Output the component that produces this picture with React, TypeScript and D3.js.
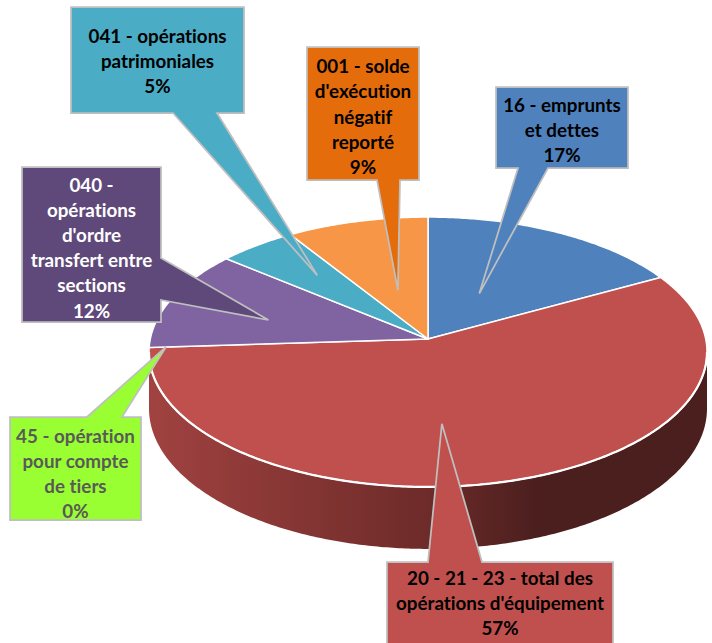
import React from "react";
import * as d3 from "d3";

// ---- data ----
const categories = [
  "16 - emprunts et dettes",
  "20 - 21 - 23 - total des opérations d'équipement",
  "45 - opération pour compte de tiers",
  "040 - opérations d'ordre transfert entre sections",
  "041 - opérations patrimoniales",
  "001 - solde d'exécution négatif reporté",
];
const values = [17, 57, 0, 12, 5, 9];
const percentLabels = ["17%", "57%", "0%", "12%", "5%", "9%"];
const labelLines = [
  ["16 - emprunts", "et dettes"],
  ["20 - 21 - 23 - total des", "opérations d'équipement"],
  ["45 - opération", "pour compte", "de tiers"],
  ["040 -", "opérations", "d'ordre", "transfert entre", "sections"],
  ["041 - opérations", "patrimoniales"],
  ["001 - solde", "d'exécution", "négatif", "reporté"],
];
const sliceColors = ["#4f81bd", "#c0504d", "#9bbb59", "#8064a2", "#4bacc6", "#f79646"];
const boxColors = ["#4f81bd", "#c0504d", "#99ff33", "#5f497a", "#4bacc6", "#e46c0a"];
const textColors = ["#000000", "#000000", "#595959", "#ffffff", "#000000", "#000000"];

// ---- layout ----
const W = 712;
const H = 643;
const CX = 428;
const CY = 339;
const RX = 277.7;
const RY = 133.7;
const P = 0.0963; // perspective factor
const DEPTH = 56;

// callout boxes: rect + pointer base; tip from slice geometry (t along slice, r radius fraction)
const callouts = [
  { x0: 496, y0: 87, x1: 628, y1: 168, side: "bottom", b0: 518, b1: 548, t: 0.466, r: 0.4, textY: 105 },
  { x0: 387, y0: 562, x1: 613, y1: 655, side: "top", b0: 428, b1: 482, t: 0.557, r: 0.6, textY: 578.3 },
  { x0: 10, y0: 417, x1: 141, y1: 520, side: "top", b0: 87, b1: 122, t: 0.5, r: 0.94, textY: 436 },
  { x0: 22, y0: 167, x1: 161, y1: 322, side: "right", b0: 258, b1: 300, t: 0.405, r: 0.6, textY: 185 },
  { x0: 71, y0: 7, x1: 244, y1: 113, side: "bottom", b0: 173, b1: 217, t: 0.58, r: 0.65, textY: 36 },
  { x0: 307, y0: 47, x1: 419, y1: 180, side: "bottom", b0: 377, b1: 400, t: 0.49, r: 0.395, textY: 66.7 },
];
const LINE_H = 25.2;

function project(theta: number, r: number, h: number): [number, number] {
  const X = r * Math.sin(theta);
  const Y = r * Math.cos(theta);
  const d = 1 + P * Y;
  return [CX + (RX * X) / d, CY - (RY * Y) / d + h / d];
}

function arcPoints(a0: number, a1: number, r: number, h: number): [number, number][] {
  const n = Math.max(2, Math.ceil(Math.abs(a1 - a0) / 0.01));
  const pts: [number, number][] = [];
  for (let i = 0; i <= n; i++) {
    pts.push(project(a0 + ((a1 - a0) * i) / n, r, h));
  }
  return pts;
}

export default function App() {
  const pie = d3
    .pie<number>()
    .sort(null)
    .value((d) => d)
    .startAngle(0)
    .endAngle(2 * Math.PI);
  const arcs = pie(values);
  const line = d3.line();

  const thetaR = Math.acos(-P);
  const thetaL = 2 * Math.PI - thetaR;

  const sides = arcs
    .map((a, i) => {
      const s = Math.max(a.startAngle, thetaR);
      const e = Math.min(a.endAngle, thetaL);
      if (e <= s) return null;
      const top = arcPoints(s, e, 1, 0);
      const bot = arcPoints(e, s, 1, DEPTH);
      return { i, d: line([...top, ...bot])! + "Z" };
    })
    .filter(Boolean) as { i: number; d: string }[];

  const tops = arcs.map((a, i) => {
    if (a.endAngle - a.startAngle <= 0) return null;
    const pts = [[CX, CY] as [number, number], ...arcPoints(a.startAngle, a.endAngle, 1, 0)];
    return { i, d: line(pts)! + "Z" };
  });

  const frontEdge = line(arcPoints(thetaR, thetaL, 1, 0))!;

  const calloutPaths = callouts.map((c, i) => {
    const a = arcs[i];
    const ang = a.startAngle + (a.endAngle - a.startAngle) * c.t;
    const [tx, ty] = project(ang, c.r, 0);
    let d = "";
    if (c.side === "bottom") {
      d = `M${c.x0},${c.y0}L${c.x1},${c.y0}L${c.x1},${c.y1}L${c.b1},${c.y1}L${tx},${ty}L${c.b0},${c.y1}L${c.x0},${c.y1}Z`;
    } else if (c.side === "top") {
      d = `M${c.x0},${c.y0}L${c.b0},${c.y0}L${tx},${ty}L${c.b1},${c.y0}L${c.x1},${c.y0}L${c.x1},${c.y1}L${c.x0},${c.y1}Z`;
    } else {
      d = `M${c.x0},${c.y0}L${c.x1},${c.y0}L${c.x1},${c.b0}L${tx},${ty}L${c.x1},${c.b1}L${c.x1},${c.y1}L${c.x0},${c.y1}Z`;
    }
    return d;
  });

  const sideColor = (hex: string) => {
    const c = d3.hsl(hex);
    return {
      left: d3.hsl(c.h, Math.min(1, c.s * 0.9), c.l * 0.83).toString(),
      mid: d3.hsl(c.h, Math.min(1, c.s * 0.95), c.l * 0.56).toString(),
      right: d3.hsl(c.h, Math.min(1, c.s * 0.88), c.l * 0.385).toString(),
    };
  };

  return (
    <svg
      width={W}
      height={H}
      style={{ position: "absolute", left: 0, top: 0, background: "#ffffff" }}
      fontFamily="Lato, 'Open Sans', sans-serif"
    >
      <defs>
        {sides.map((s) => {
          const sc = sideColor(sliceColors[s.i]);
          return (
            <linearGradient
              key={s.i}
              id={`side-${s.i}`}
              gradientUnits="userSpaceOnUse"
              x1={CX - RX}
              x2={CX + RX}
              y1={0}
              y2={0}
            >
              <stop offset="0" stopColor={sc.left} />
              <stop offset="0.5" stopColor={sc.mid} />
              <stop offset="0.7" stopColor={sc.right} />
              <stop offset="1" stopColor={sc.right} />
            </linearGradient>
          );
        })}
      </defs>
      <g>
        {sides.map((s) => (
          <path key={s.i} d={s.d} fill={`url(#side-${s.i})`} />
        ))}
        {tops.map((t) =>
          t ? (
            <path
              key={t.i}
              d={t.d}
              fill={sliceColors[t.i]}
              stroke="#ffffff"
              strokeWidth={1.5}
              strokeLinejoin="round"
            />
          ) : null
        )}
        <path d={frontEdge} fill="none" stroke="#ffffff" strokeWidth={2.2} />
      </g>
      <g>
        {callouts.map((c, i) => (
          <g key={i}>
            <path
              d={calloutPaths[i]}
              fill={boxColors[i]}
              stroke="#bfbfbf"
              strokeWidth={1.75}
              strokeLinejoin="miter"
            />
            <text
              textAnchor="middle"
              fontWeight="bold"
              fontSize={18.8}
              fill={textColors[i]}
              style={{ fontVariantLigatures: "none", fontFeatureSettings: '"liga" 0, "dlig" 0' }}
            >
              {[...labelLines[i], percentLabels[i]].map((ln, k) => (
                <tspan key={k} x={(c.x0 + c.x1) / 2} y={c.textY + k * LINE_H} dy="0.35em">
                  {ln}
                </tspan>
              ))}
            </text>
          </g>
        ))}
      </g>
    </svg>
  );
}
